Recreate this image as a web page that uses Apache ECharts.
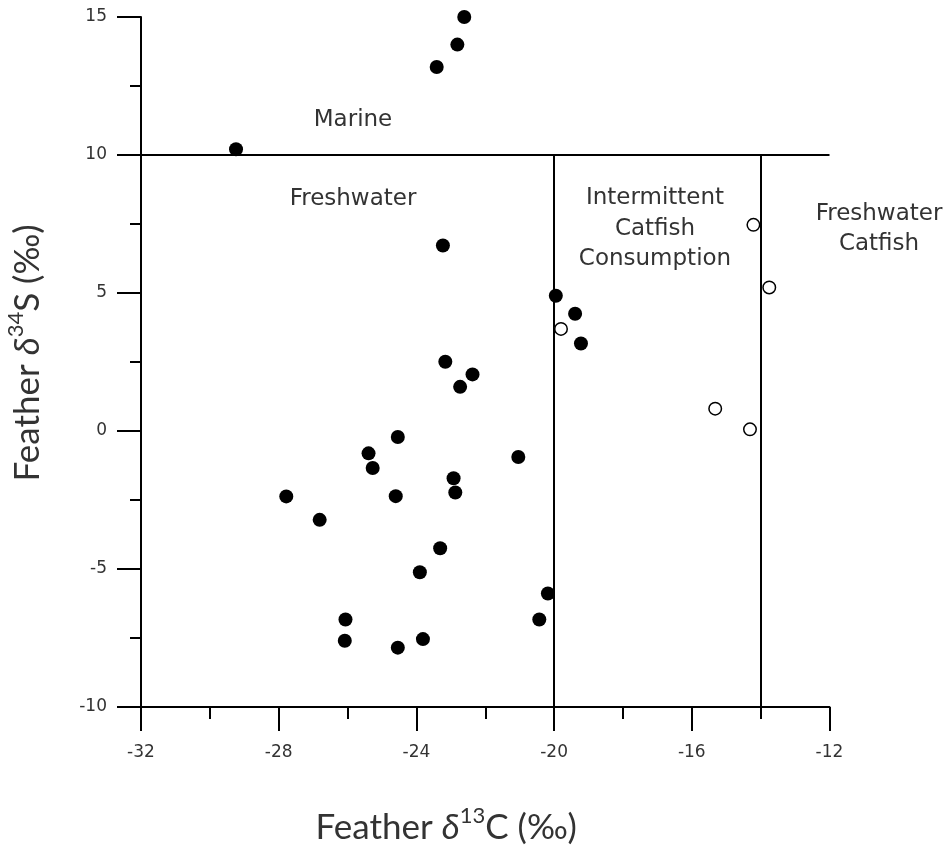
<!DOCTYPE html>
<html>
<head>
<meta charset="utf-8">
<script src="https://cdn.jsdelivr.net/npm/echarts@6/dist/echarts.min.js"></script>
<style>html,body{margin:0;padding:0;background:#fff}#c{width:948px;height:847px}</style>
</head>
<body>
<div id="c"></div>
<script>
// Filled circles: [δ13C, δ34S]
const filledPoints = [
  [-22.61, 15.0], [-22.81, 14.0], [-23.41, 13.19], [-29.24, 10.21], [-23.23, 6.72],
  [-19.95, 4.9], [-19.39, 4.25], [-19.22, 3.17], [-21.04, -0.94],
  [-23.16, 2.51], [-22.37, 2.05], [-22.73, 1.6], [-24.54, -0.22],
  [-25.39, -0.81], [-25.27, -1.34], [-22.92, -1.71], [-22.87, -2.23],
  [-27.78, -2.37], [-24.6, -2.36], [-26.81, -3.22], [-23.31, -4.25],
  [-23.9, -5.12], [-26.06, -6.83], [-26.08, -7.6], [-24.54, -7.85],
  [-23.81, -7.54], [-20.43, -6.83], [-20.18, -5.89]
];
// Open circles
const openPoints = [
  [-14.21, 7.47], [-13.75, 5.2], [-19.8, 3.7], [-15.32, 0.81], [-14.31, 0.06]
];
// Axis ranges
const xRange = { min: -32, max: -12, interval: 4 };
const yRange = { min: -10, max: 15, interval: 5 };
// Boundaries
const marineBoundary = 10;
const catfishBoundaries = [-20, -14];

const chart = echarts.init(document.getElementById('c'), null, { renderer: 'canvas' });

const boundaryLines = [
  [{ coord: [xRange.min, marineBoundary] }, { coord: [xRange.max, marineBoundary] }]
].concat(catfishBoundaries.map(x => [{ coord: [x, marineBoundary] }, { coord: [x, yRange.min] }]));

const regionText = { fontFamily: 'DejaVu Sans', fontSize: 23, fill: '#333', textAlign: 'center', textVerticalAlign: 'middle', lineHeight: 30.5 };

const titleRich = {
  t: { fontFamily: 'Lato', fontSize: 35, color: '#333', verticalAlign: 'bottom', lineHeight: 40 },
  d: { fontFamily: 'Lato', fontStyle: 'italic', fontSize: 35, color: '#333', verticalAlign: 'bottom', lineHeight: 40 },
  s: { fontFamily: 'Lato', fontSize: 22, color: '#333', verticalAlign: 'top', lineHeight: 40 }
};

chart.setOption({
  animation: false,
  backgroundColor: '#fff',
  grid: { left: 141, right: 118.5, top: 17, bottom: 140, containLabel: false, outerBoundsMode: 'none' },
  xAxis: {
    type: 'value', min: xRange.min, max: xRange.max, interval: xRange.interval,
    splitLine: { show: false },
    axisLine: { show: true, onZero: false, lineStyle: { color: '#000', width: 2 } },
    axisTick: { show: true, inside: false, length: 24, lineStyle: { color: '#000', width: 2 } },
    minorTick: { show: true, splitNumber: 2, length: 12, lineStyle: { color: '#000', width: 2 } },
    axisLabel: { margin: 37, fontFamily: 'DejaVu Sans', fontSize: 17, color: '#333' },
    name: '{t|Feather }{d|δ}{s|13}{t|C (‰)}',
    nameLocation: 'middle', nameGap: 98,
    nameTextStyle: { rich: titleRich, padding: [0, 78, 0, 0] }
  },
  yAxis: {
    type: 'value', min: yRange.min, max: yRange.max, interval: yRange.interval,
    splitLine: { show: false },
    axisLine: { show: true, onZero: false, lineStyle: { color: '#000', width: 2 } },
    axisTick: { show: true, inside: false, length: 24, lineStyle: { color: '#000', width: 2 } },
    minorTick: { show: true, splitNumber: 2, length: 11, lineStyle: { color: '#000', width: 2 } },
    axisLabel: { margin: 34, fontFamily: 'DejaVu Sans', fontSize: 17, color: '#333' },
    name: '{t|Feather }{d|δ}{s|34}{t|S (‰)}',
    nameLocation: 'middle', nameGap: 96,
    nameTextStyle: { rich: titleRich, padding: [0, 0, 0, 18] }
  },
  series: [
    {
      type: 'scatter', data: filledPoints, symbol: 'circle', symbolSize: 14,
      itemStyle: { color: '#000', opacity: 1 }, z: 5,
      markLine: {
        silent: true, symbol: 'none', animation: false,
        label: { show: false },
        lineStyle: { color: '#000', width: 2, type: 'solid' },
        emphasis: { disabled: true },
        data: boundaryLines
      }
    },
    {
      type: 'scatter', data: openPoints, symbol: 'circle', symbolSize: 12.5,
      itemStyle: { color: '#fff', borderColor: '#000', borderWidth: 1.5, opacity: 1 }, z: 6
    }
  ],
  graphic: [
    { type: 'text', x: 353, y: 120, style: Object.assign({ text: 'Marine' }, regionText) },
    { type: 'text', x: 353, y: 199, style: Object.assign({ text: 'Freshwater' }, regionText) },
    { type: 'text', x: 655, y: 229, style: Object.assign({ text: 'Intermittent\nCatfish\nConsumption' }, regionText) },
    { type: 'text', x: 879, y: 229, style: Object.assign({ text: 'Freshwater\nCatfish' }, regionText) }
  ]
});
</script>
</body>
</html>
